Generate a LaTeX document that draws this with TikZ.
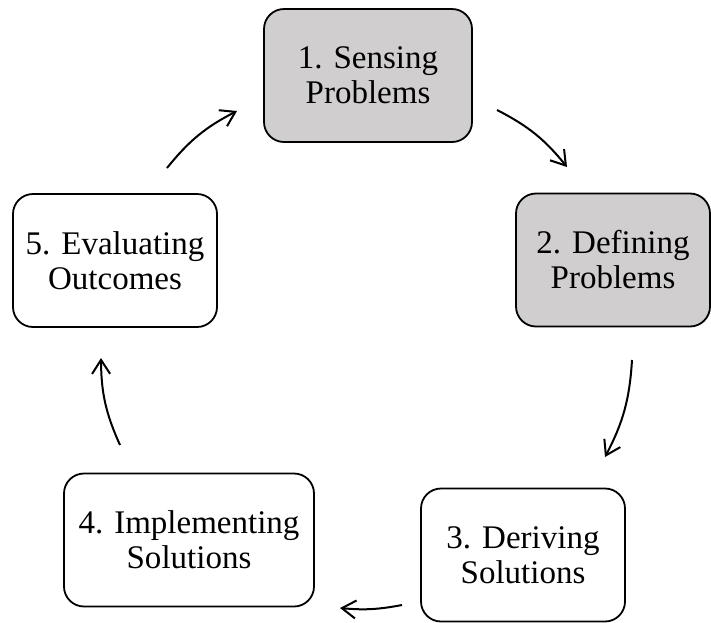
\documentclass[tikz,border=0pt]{standalone}
\usepackage{fontspec}
\setmainfont{Liberation Serif}
\usetikzlibrary{arrows.meta, positioning}
\definecolor{stagegray}{HTML}{D0CECE}

\begin{document}
\begin{tikzpicture}[
    x=0.5pt, y=0.5pt,
    font=\fontsize{16.5}{17.5}\selectfont,
    % Styles
    stagebox/.style={
        draw, rounded corners=10pt, align=center,
        minimum height=66.5pt, inner sep=0pt, line width=0.9pt
    },
    shadedbox/.style={stagebox, fill=stagegray},
    arrow/.style={-{Straight Barb[length=7pt,width=9pt]}, line width=1pt}
]
    \useasboundingbox (0,0) rectangle (711,-622);

    % --- Stages ---
    \node[shadedbox, minimum width=104pt] (sense) at (368,-75.5) {1. Sensing\\Problems};
    \node[shadedbox, minimum width=97pt] (define) at (613,-260) {2. Defining\\Problems};
    \node[stagebox, minimum width=102pt] (derive) at (523,-555) {3. Deriving\\Solutions};
    \node[stagebox, minimum width=125pt] (implement) at (189,-540) {4. Implementing\\Solutions};
    \node[stagebox, minimum width=102pt] (evaluate) at (115,-260.5) {5. Evaluating\\Outcomes};

    % --- Arrow ends ---
    \coordinate (a1) at (497,-110);  \coordinate (b1) at (567,-167);
    \coordinate (a2) at (632,-360);  \coordinate (b2) at (605,-457);
    \coordinate (a3) at (402,-605);  \coordinate (b3) at (340,-608);
    \coordinate (a4) at (120,-445);  \coordinate (b4) at (101,-358);
    \coordinate (a5) at (167,-168);  \coordinate (b5) at (237,-111);

    % --- Connections ---
    \draw[arrow] (a1) to[bend left=12] (b1);
    \draw[arrow] (a2) to[bend left=12] (b2);
    \draw[arrow] (a3) to[bend left=8] (b3);
    \draw[arrow] (a4) to[bend left=12] (b4);
    \draw[arrow] (a5) to[bend left=12] (b5);

\end{tikzpicture}
\end{document}
